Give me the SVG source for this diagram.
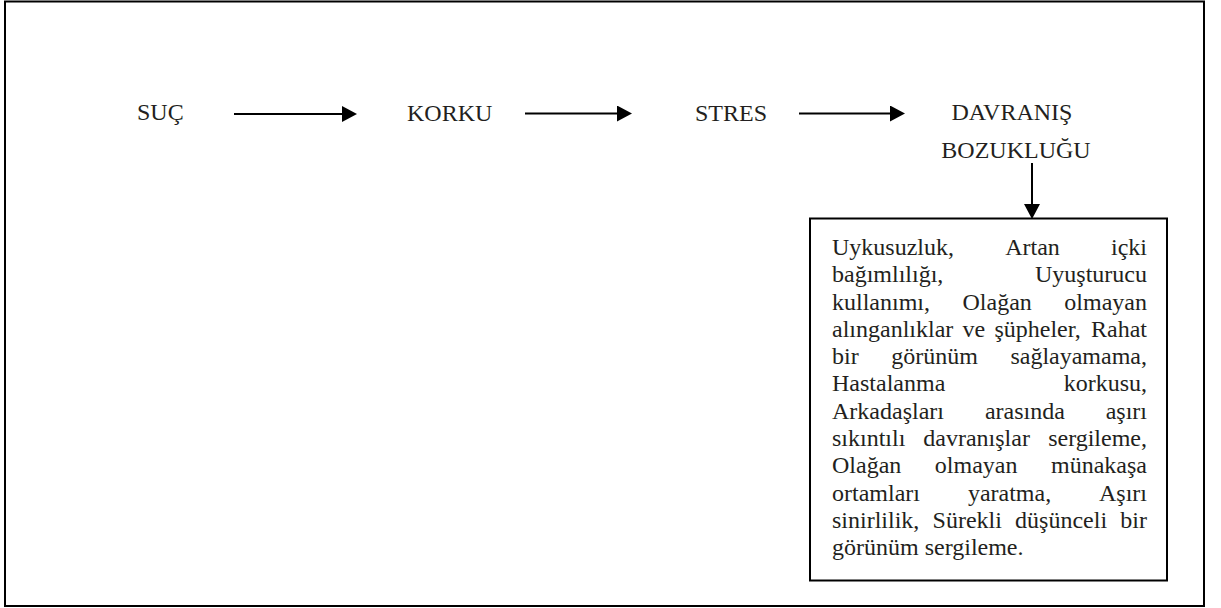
<svg xmlns="http://www.w3.org/2000/svg" width="1221" height="608" viewBox="0 0 1221 608">
<defs>
<style>
.lbl{font-family:"Liberation Serif","Times New Roman",serif;font-size:24px;fill:#231f20}
.bt{font-family:"Liberation Serif","Times New Roman",serif;font-size:24px;fill:#231f20}
.e{text-anchor:end}
.m{text-anchor:middle}
.conn{stroke:#000;stroke-width:2;fill:none}
.box{fill:#fff;stroke:#000;stroke-width:2}
</style>
<marker id="ah" viewBox="0 0 15 16" refX="7" refY="8" markerWidth="15" markerHeight="16" markerUnits="userSpaceOnUse" orient="auto">
<path d="M0,0 L15,8 L0,16 Z" fill="#000"/>
</marker>
</defs>
<rect x="0" y="0" width="1221" height="608" fill="#fff"/>
<rect id="frame" x="5" y="1.5" width="1199" height="604.5" fill="none" stroke="#000" stroke-width="2"/>

<g id="node-suc"><text class="lbl" x="137" y="120">SUÇ</text></g>
<g id="node-korku"><text class="lbl" x="407" y="120.5">KORKU</text></g>
<g id="node-stres"><text class="lbl" x="695" y="120.5">STRES</text></g>
<g id="node-davranis">
<text class="lbl m" x="1012" y="119.5">DAVRANIŞ</text>
<text class="lbl m" x="1016" y="158">BOZUKLUĞU</text>
</g>

<g id="connectors">
<line class="conn" x1="234" y1="114" x2="349" y2="114" marker-end="url(#ah)"/>
<line class="conn" x1="525" y1="113.5" x2="624" y2="113.5" marker-end="url(#ah)"/>
<line class="conn" x1="799" y1="113.5" x2="897" y2="113.5" marker-end="url(#ah)"/>
<line class="conn" x1="1032" y1="163" x2="1032" y2="211" marker-end="url(#ah)"/>
</g>

<g id="node-box">
<rect class="box" x="810" y="218.5" width="357" height="362"/>
<text class="bt" y="255"><tspan x="832">Uykusuzluk,</tspan><tspan x="1005.2">Artan</tspan></text>
<text class="bt e" x="1147" y="255">içki</text>
<text class="bt" x="832" y="282.3">bağımlılığı,</text>
<text class="bt e" x="1147" y="282.3">Uyuşturucu</text>
<text class="bt" y="309.5"><tspan x="832">kullanımı,</tspan><tspan x="962.5">Olağan</tspan></text>
<text class="bt e" x="1147" y="309.5">olmayan</text>
<text class="bt" y="336.8"><tspan x="832">alınganlıklar</tspan><tspan x="962.5">ve</tspan><tspan x="994.4">şüpheler,</tspan></text>
<text class="bt e" x="1147" y="336.8">Rahat</text>
<text class="bt" y="364.1"><tspan x="832">bir</tspan><tspan x="891.2">görünüm</tspan></text>
<text class="bt e" x="1147" y="364.1">sağlayamama,</text>
<text class="bt" x="832" y="391.4">Hastalanma</text>
<text class="bt e" x="1147" y="391.4">korkusu,</text>
<text class="bt" y="418.6"><tspan x="832">Arkadaşları</tspan><tspan x="984.9">arasında</tspan></text>
<text class="bt e" x="1147" y="418.6">aşırı</text>
<text class="bt" y="445.9"><tspan x="832">sıkıntılı</tspan><tspan x="923.3">davranışlar</tspan></text>
<text class="bt e" x="1147" y="445.9">sergileme,</text>
<text class="bt" y="473.2"><tspan x="832">Olağan</tspan><tspan x="934.8">olmayan</tspan></text>
<text class="bt e" x="1147" y="473.2">münakaşa</text>
<text class="bt" y="500.5"><tspan x="832">ortamları</tspan><tspan x="967.9">yaratma,</tspan></text>
<text class="bt e" x="1147" y="500.5">Aşırı</text>
<text class="bt" y="527.7"><tspan x="832">sinirlilik,</tspan><tspan x="932.6">Sürekli</tspan><tspan x="1015.1">düşünceli</tspan></text>
<text class="bt e" x="1147" y="527.7">bir</text>
<text class="bt" x="832" y="555">görünüm sergileme.</text>
</g>
</svg>
